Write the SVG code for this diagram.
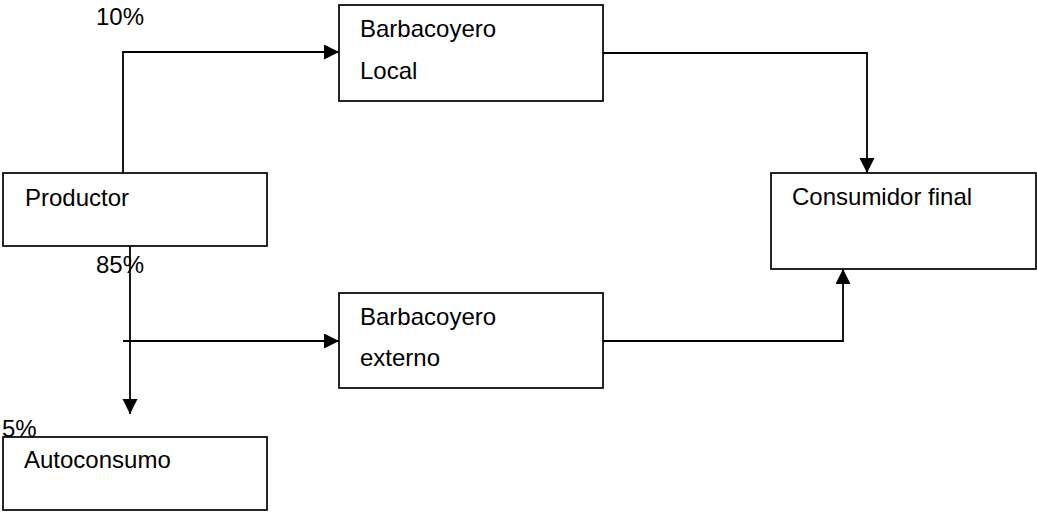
<svg xmlns="http://www.w3.org/2000/svg" width="1037" height="513" viewBox="0 0 1037 513">
<style>
  .box { fill: #ffffff; stroke: #000000; stroke-width: 1.7; }
  .lbl { font-family: "Liberation Sans", Arial, sans-serif; font-size: 24px; fill: #000000; }
  .edge { fill: none; stroke: #000000; stroke-width: 1.8; }
</style>
<defs>
  <marker id="arr" markerUnits="userSpaceOnUse" markerWidth="16" markerHeight="16" refX="15" refY="7.5" orient="auto">
    <path d="M0,0 L15,7.5 L0,15 Z" fill="#000000"/>
  </marker>
</defs>
<rect width="1037" height="513" fill="#ffffff"/>

<g id="connectors">
  <path class="edge" d="M123,173 L123,52 L339,52" marker-end="url(#arr)"/>
  <path class="edge" d="M603,53 L867,53 L867,173" marker-end="url(#arr)"/>
  <path class="edge" d="M130,246 L130,414" marker-end="url(#arr)"/>
  <path class="edge" d="M123,341 L339,341" marker-end="url(#arr)"/>
  <path class="edge" d="M603,341 L843,341 L843,269" marker-end="url(#arr)"/>
</g>

<g id="node-productor">
  <rect class="box" x="3" y="173" width="264" height="73"/>
  <text class="lbl" x="25" y="206">Productor</text>
</g>

<g id="node-barbacoyero-local">
  <rect class="box" x="339" y="5" width="264" height="96"/>
  <text class="lbl" x="360" y="37">Barbacoyero</text>
  <text class="lbl" x="360" y="79">Local</text>
</g>

<g id="node-consumidor">
  <rect class="box" x="771" y="173" width="265" height="96"/>
  <text class="lbl" x="792" y="205">Consumidor final</text>
</g>

<g id="node-barbacoyero-externo">
  <rect class="box" x="339" y="293" width="264" height="95"/>
  <text class="lbl" x="360" y="325">Barbacoyero</text>
  <text class="lbl" x="360" y="366">externo</text>
</g>

<g id="node-autoconsumo">
  <rect class="box" x="3" y="437" width="264" height="73"/>
  <text class="lbl" x="24" y="468">Autoconsumo</text>
</g>

<g id="labels">
  <text class="lbl" x="96" y="25">10%</text>
  <text class="lbl" x="96" y="273">85%</text>
  <text class="lbl" x="2" y="437">5%</text>
</g>
</svg>
